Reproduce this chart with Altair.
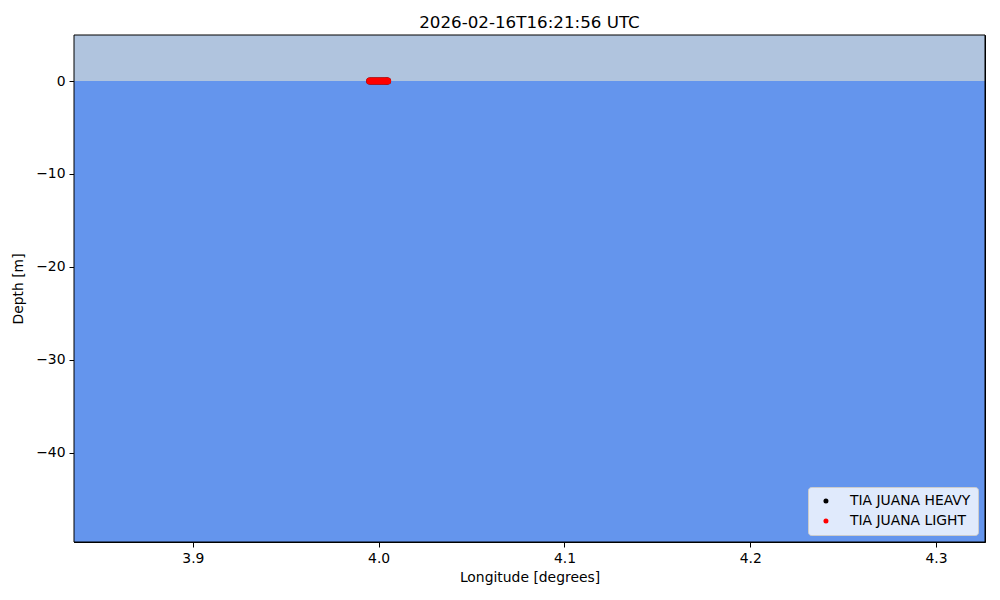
import altair as alt
import pandas as pd

# Data
lon_domain = [3.836, 4.3264]
depth_domain = [-49.6, 4.95]
sky = {"x": 3.836, "x2": 4.3264, "y": 0.0, "y2": 4.95}
sea = {"x": 3.836, "x2": 4.3264, "y": -49.6, "y2": 0.0}
series_names = ["TIA JUANA HEAVY", "TIA JUANA LIGHT"]
series_colors = ["black", "red"]
heavy_lon = [3.9952, 3.9962, 3.9972, 3.9982, 3.9992, 4.0002, 4.0012, 4.0022, 4.0032, 4.0042, 4.0048]
heavy_depth = [0.0] * len(heavy_lon)
light_lon = [3.9952, 3.9962, 3.9972, 3.9982, 3.9992, 4.0002, 4.0012, 4.0022, 4.0032, 4.0042, 4.0048]
light_depth = [0.0] * len(light_lon)
x_ticks = [3.9, 4.0, 4.1, 4.2, 4.3]
y_ticks = [-40, -30, -20, -10, 0]

bg = pd.DataFrame([dict(sky, kind="sky"), dict(sea, kind="sea")])
frame = pd.DataFrame([{"x": lon_domain[0], "x2": lon_domain[1], "y": depth_domain[0], "y2": depth_domain[1]}])
pts = pd.DataFrame(
    {"lon": heavy_lon + light_lon,
     "depth": heavy_depth + light_depth,
     "series": [series_names[0]] * len(heavy_lon) + [series_names[1]] * len(light_lon),
     "order": [0] * len(heavy_lon) + [1] * len(light_lon)}
)

FONT = "DejaVu Sans"
FS = 13.9
xscale = alt.Scale(domain=lon_domain, nice=False, zero=False)
yscale = alt.Scale(domain=depth_domain, nice=False, zero=False)

xaxis = alt.Axis(values=x_ticks, format=".1f", title="Longitude [degrees]", grid=False,
                 tickSize=5, labelPadding=4, titlePadding=6, domainColor="black",
                 tickColor="black", labelColor="black", titleColor="black",
                 labelFontSize=FS, titleFontSize=FS, titleFontWeight="normal",
                 labelFont=FONT, titleFont=FONT)
yaxis = alt.Axis(values=y_ticks, format="d", title="Depth [m]", grid=False,
                 labelExpr="replace(datum.label, '-', '\u2212')",
                 tickSize=5, labelPadding=4, titlePadding=10, domainColor="black",
                 tickColor="black", labelColor="black", titleColor="black",
                 labelFontSize=FS, titleFontSize=FS, titleFontWeight="normal",
                 labelFont=FONT, titleFont=FONT)

rects = alt.Chart(bg).mark_rect(strokeWidth=0).encode(
    x=alt.X("x:Q", scale=xscale, axis=xaxis),
    x2="x2:Q",
    y=alt.Y("y:Q", scale=yscale, axis=yaxis),
    y2="y2:Q",
    color=alt.Color("kind:N", scale=alt.Scale(domain=["sky", "sea"], range=["#b0c4de", "#6495ed"]), legend=None),
)

border = alt.Chart(frame).mark_rect(fillOpacity=0, stroke="black", strokeWidth=1).encode(
    x=alt.X("x:Q", scale=xscale), x2="x2:Q",
    y=alt.Y("y:Q", scale=yscale), y2="y2:Q",
)

points = alt.Chart(pts).mark_circle(size=50, opacity=1).encode(
    x=alt.X("lon:Q", scale=xscale),
    y=alt.Y("depth:Q", scale=yscale),
    color=alt.Color("series:N", scale=alt.Scale(domain=series_names, range=series_colors),
                    legend=alt.Legend(title=None, orient="bottom-right", offset=7,
                                      fillColor="rgba(255,255,255,0.8)", strokeColor="#cccccc",
                                      cornerRadius=3, padding=7, symbolType="circle",
                                      symbolSize=25, labelFontSize=FS, labelFont=FONT,
                                      labelColor="black", rowPadding=5, symbolOffset=4,
                                      labelOffset=17)),
    order=alt.Order("order:Q"),
)

chart = alt.layer(rects, points, border).resolve_scale(color="independent").properties(
    width=911, height=507,
    title=alt.TitleParams("2026-02-16T16:21:56 UTC", font=FONT, fontSize=16.7,
                          fontWeight="normal", color="black", anchor="middle", offset=3),
    autosize=alt.AutoSizeParams(type="none"),
    padding={"left": 66, "top": 27, "right": 7, "bottom": 50},
).configure_view(stroke="black", strokeWidth=1)

chart.save("out.html", embed_options={"renderer": "svg", "actions": False})
